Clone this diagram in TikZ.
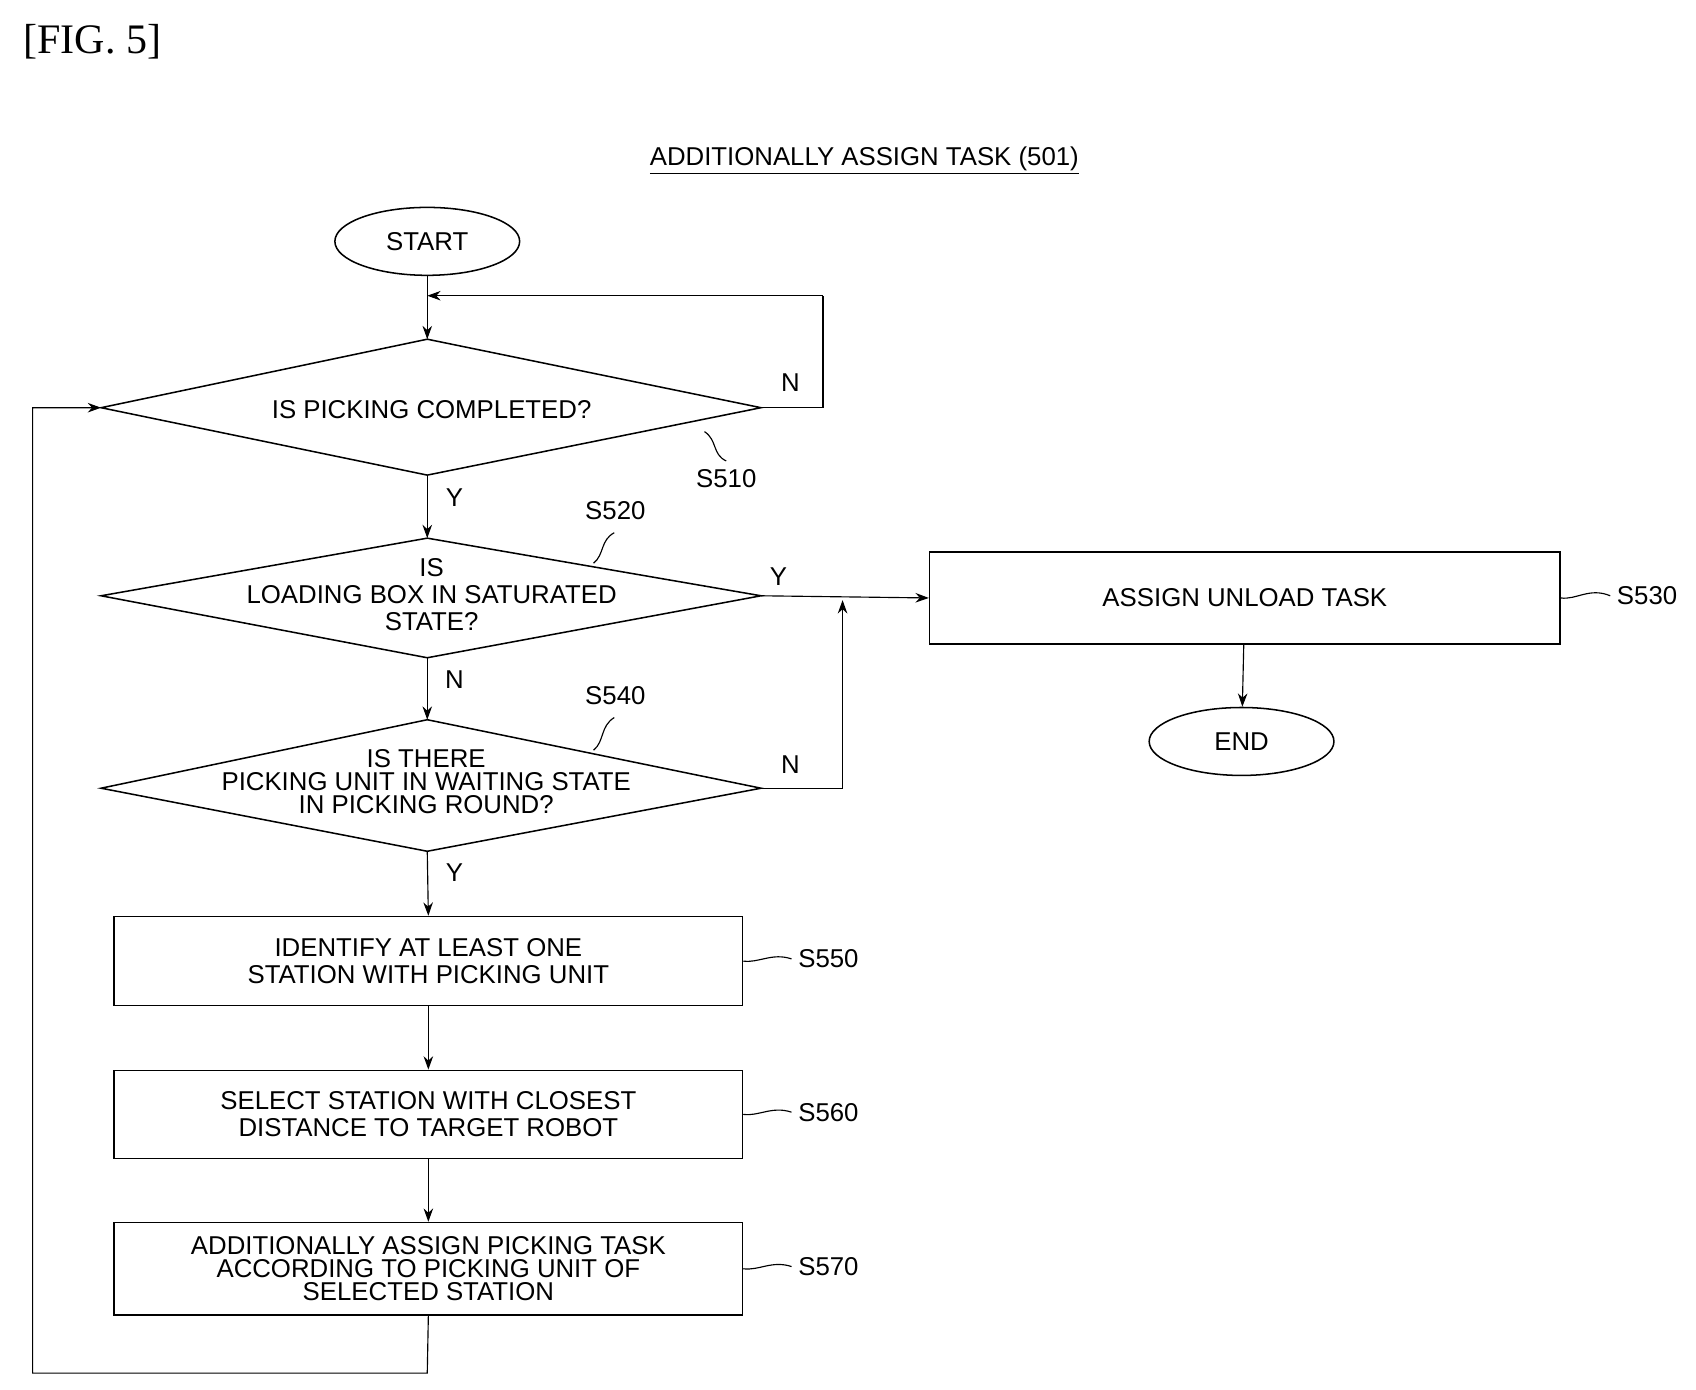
\documentclass[tikz,border=0pt]{standalone}
\usepackage{fontspec}
\setmainfont{Liberation Serif}
\newfontfamily\chartfont{Liberation Sans}
\usetikzlibrary{shapes.geometric,arrows.meta}
\tikzset{
  flow/.style={line width=0.6pt},
  proc/.style={draw, line width=0.8pt, inner sep=0pt, font=\chartfont\fontsize{13.5}{14}\selectfont, align=center},
  term/.style={proc, ellipse, minimum width=3.4cm, minimum height=1.25cm},
  lbl/.style={font=\chartfont\fontsize{13.5}{14}\selectfont},
  arr/.style={flow, -{Stealth[length=7pt,width=5pt]}},
}
\begin{document}
\begin{tikzpicture}[x=0.02cm, y=-0.02cm]
    \useasboundingbox (0,0) rectangle (1560,1278);

    \node[font=\fontsize{22}{24}\selectfont] (fig) at (85,38) {[FIG. 5]};
    \node[lbl] (title) at (795,148) {\underline{ADDITIONALLY ASSIGN TASK (501)}};

    % terminals
    \node[term] (start) at (393,222) {START};
    \node[term] (end) at (1142,682) {END};

    % decisions
    \coordinate (d1t) at (393,312); \coordinate (d1b) at (393,437);
    \coordinate (d1l) at (93,375);  \coordinate (d1r) at (700,375);
    \coordinate (d2t) at (393,495); \coordinate (d2b) at (393,605);
    \coordinate (d2l) at (93,548);  \coordinate (d2r) at (700,548);
    \coordinate (d3t) at (393,662); \coordinate (d3b) at (393,783);
    \coordinate (d3l) at (93,725);  \coordinate (d3r) at (700,725);
    \draw[line width=0.8pt] (d1t) -- (d1r) -- (d1b) -- (d1l) -- cycle;
    \draw[line width=0.8pt] (d2t) -- (d2r) -- (d2b) -- (d2l) -- cycle;
    \draw[line width=0.8pt] (d3t) -- (d3r) -- (d3b) -- (d3l) -- cycle;
    \node[lbl] (q1) at (397,377) {IS PICKING COMPLETED?};
    \node[lbl, align=center] (q2) at (397,547) {IS\\LOADING BOX IN SATURATED\\STATE?};
    \node[lbl, align=center, font=\chartfont\fontsize{13.5}{12}\selectfont] (q3) at (392,719) {IS THERE\\PICKING UNIT IN WAITING STATE\\IN PICKING ROUND?};

    % processes
    \node[proc, minimum width=11.6cm, minimum height=1.7cm] (s530) at (1145,550) {ASSIGN UNLOAD TASK};
    \node[proc, minimum width=11.56cm, minimum height=1.64cm] (s550) at (394,884) {IDENTIFY AT LEAST ONE\\STATION WITH PICKING UNIT};
    \node[proc, minimum width=11.56cm, minimum height=1.62cm] (s560) at (394,1025) {SELECT STATION WITH CLOSEST\\DISTANCE TO TARGET ROBOT};
    \node[proc, minimum width=11.56cm, minimum height=1.7cm, font=\chartfont\fontsize{13.5}{12}\selectfont] (s570) at (394,1167) {ADDITIONALLY ASSIGN PICKING TASK\\ACCORDING TO PICKING UNIT OF\\SELECTED STATION};

    % connectors
    \coordinate (merge) at (393,272);
    \coordinate (nr) at (757,375); \coordinate (nt) at (757,272);
    \draw[arr] (start) -- (d1t);
    \draw[flow] (d1r) -- (nr) -- (nt);
    \draw[arr] (nt) -- (merge);
    \draw[arr] (d1b) -- (d2t);
    \draw[arr] (d2r) -- (s530.west);
    \draw[arr] (d2b) -- (d3t);
    \coordinate (n3) at (775,725); \coordinate (n3t) at (775,552);
    \draw[arr] (d3r) -- (n3) -- (n3t);
    \draw[arr] (d3b) -- (s550.north);
    \draw[arr] (s550) -- (s560);
    \draw[arr] (s560) -- (s570);
    \draw[arr] (s530) -- (end);
    \coordinate (lb) at (393,1263); \coordinate (ll) at (30,1263); \coordinate (lt) at (30,375);
    \draw[arr] (s570.south) -- (lb) -- (ll) -- (lt) -- (d1l);

    % branch labels
    \node[lbl] (n1) at (727,352) {N};
    \node[lbl] (y1) at (418,458) {Y};
    \node[lbl] (y2) at (716,530) {Y};
    \node[lbl] (n2) at (418,625) {N};
    \node[lbl] (n3l) at (727,703) {N};
    \node[lbl] (y3) at (418,803) {Y};

    % step numbers
    \node[lbl] (l510) at (668,440) {S510};
    \draw[flow] (648,397) .. controls (660,405) and (655,418) .. (668,424);
    \node[lbl] (l520) at (566,470) {S520};
    \draw[flow] (546,518) .. controls (556,510) and (552,497) .. (565,490);
    \node[lbl] (l540) at (566,640) {S540};
    \draw[flow] (546,690) .. controls (556,682) and (552,668) .. (565,660);
    \node[lbl] (l530) at (1515,548) {S530};
    \draw[flow] (s530.east) .. controls (1450,552) and (1462,540) .. (l530.west);
    \node[lbl] (l550) at (762,882) {S550};
    \draw[flow] (s550.east) .. controls (698,886) and (710,876) .. (l550.west);
    \node[lbl] (l560) at (762,1023) {S560};
    \draw[flow] (s560.east) .. controls (698,1027) and (710,1017) .. (l560.west);
    \node[lbl] (l570) at (762,1165) {S570};
    \draw[flow] (s570.east) .. controls (698,1169) and (710,1159) .. (l570.west);
\end{tikzpicture}
\end{document}
